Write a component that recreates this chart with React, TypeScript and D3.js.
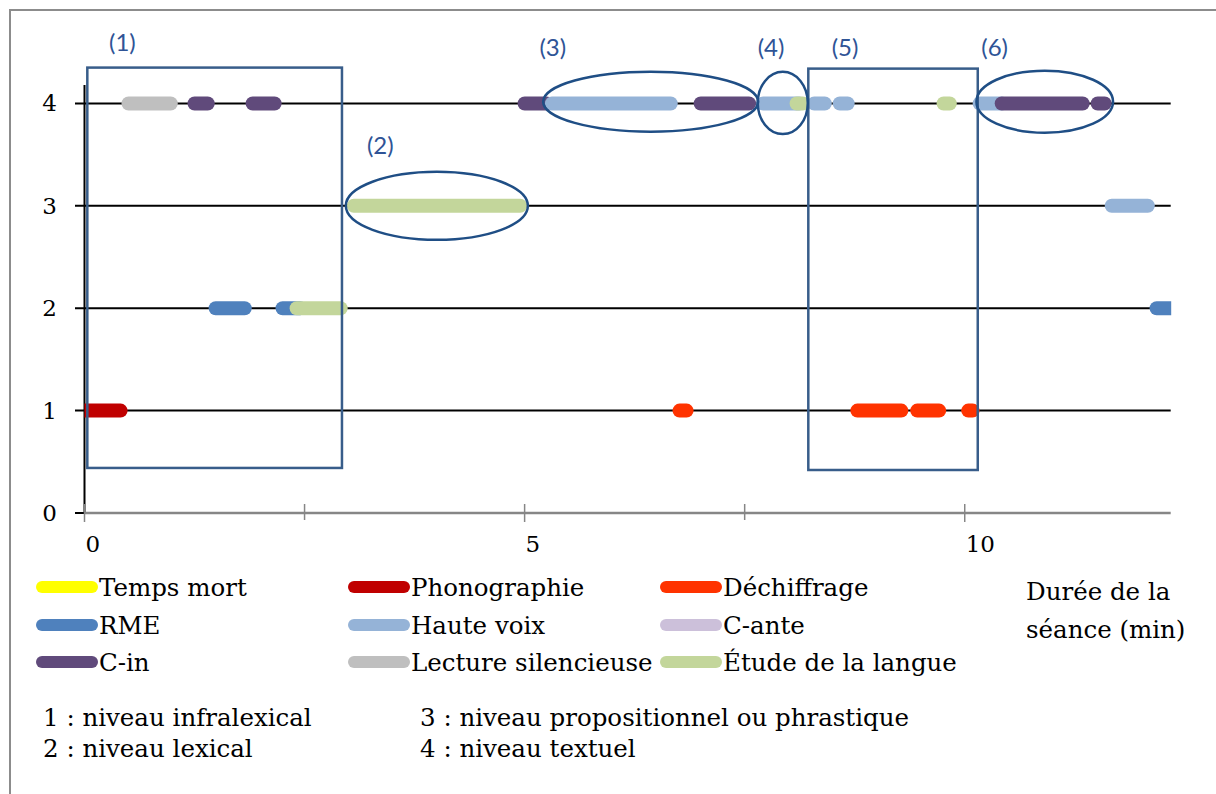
import React from "react";
import * as d3 from "d3";

// ---------- data ----------
const categories = [
  "Temps mort",
  "Phonographie",
  "Déchiffrage",
  "RME",
  "Haute voix",
  "C-ante",
  "C-in",
  "Lecture silencieuse",
  "Étude de la langue",
];
const categoryColors = [
  "#FFFF00",
  "#C00000",
  "#FF3300",
  "#4F81BD",
  "#95B3D7",
  "#CCC0DA",
  "#604A7B",
  "#BFBFBF",
  "#C3D69B",
];

// [level, category, start (min), end (min)]
const segments: [number, string, number, number][] = [
  [1, "Phonographie", 0, 0.41],
  [1, "Déchiffrage", 6.76, 6.84],
  [1, "Déchiffrage", 8.78, 9.28],
  [1, "Déchiffrage", 9.46, 9.71],
  [1, "Déchiffrage", 10.04, 10.09],
  [2, "RME", 1.49, 1.82],
  [2, "RME", 2.25, 2.45],
  [2, "Étude de la langue", 2.41, 2.91],
  [2, "RME", 12.18, 12.4],
  [3, "Étude de la langue", 3.06, 4.95],
  [3, "Haute voix", 11.67, 12.08],
  [4, "Lecture silencieuse", 0.5, 0.98],
  [4, "C-in", 1.25, 1.4],
  [4, "C-in", 1.91, 2.16],
  [4, "C-in", 5.0, 5.25],
  [4, "Haute voix", 5.31, 6.66],
  [4, "C-in", 7.0, 7.55],
  [4, "Haute voix", 7.71, 8.12],
  [4, "Étude de la langue", 8.09, 8.16],
  [4, "Haute voix", 8.29, 8.41],
  [4, "Haute voix", 8.58, 8.67],
  [4, "Étude de la langue", 9.76, 9.83],
  [4, "Haute voix", 10.17, 10.42],
  [4, "C-in", 10.42, 11.34],
  [4, "C-in", 11.51, 11.59],
];

const levels = [0, 1, 2, 3, 4];
const xTicks = [0, 2.5, 5, 7.5, 10];
const xTickLabels = [0, 5, 10];
const xMax = 12.34;
const yMax = 4.18;

// annotation shapes in data units
const annotationRects = [
  { label: "(1)", x0: 0.032, x1: 2.925, y0: 0.44, y1: 4.35 },
  { label: "(5)", x0: 8.223, x1: 10.148, y0: 0.42, y1: 4.34 },
];
const annotationEllipses = [
  { label: "(2)", cx: 4.003, cy: 3.0, rx: 1.034, ry: 0.332 },
  { label: "(3)", cx: 6.432, cy: 4.017, rx: 1.221, ry: 0.293 },
  { label: "(4)", cx: 7.933, cy: 4.005, rx: 0.284, ry: 0.304 },
  { label: "(6)", cx: 10.909, cy: 4.017, rx: 0.776, ry: 0.303 },
];
const annotationLabels = [
  { label: "(1)", x: 0.43, y: 4.6 },
  { label: "(2)", x: 3.36, y: 3.6 },
  { label: "(3)", x: 5.32, y: 4.56 },
  { label: "(4)", x: 7.8, y: 4.56 },
  { label: "(5)", x: 8.64, y: 4.56 },
  { label: "(6)", x: 10.34, y: 4.56 },
];

const levelNotes = [
  "1 : niveau infralexical",
  "2 : niveau lexical",
  "3 : niveau propositionnel ou phrastique",
  "4 : niveau textuel",
];
const axisTitle = ["Durée de la", "séance (min)"];

// ---------- chart ----------
const W = 1216;
const H = 794;
const SERIF = "'DejaVu Serif', serif";
const SANS = "Lato, 'Open Sans', sans-serif";
const ANN = "#385D8A";
const ANN_TEXT = "#2F5496";
const TXT = 24.5;

export default function App() {
  const x = d3.scaleLinear().domain([0, xMax]).range([84.5, 1170.7]);
  const y = d3.scaleLinear().domain([0, yMax]).range([513, 85]);
  const color = d3.scaleOrdinal<string, string>().domain(categories).range(categoryColors);

  const line = d3
    .line<[number, number]>()
    .x((d) => x(d[0]))
    .y((d) => y(d[1]));

  const legendCols = [36, 348, 660];
  const legendRows = [587, 625, 662];

  return (
    <svg
      width={W}
      height={H}
      style={{ position: "absolute", left: 0, top: 0, background: "#fff" }}
    >
      <defs>
        <clipPath id="plot">
          <rect x={x(0)} y={0} width={x(xMax) - x(0) + 0.5} height={H} />
        </clipPath>
      </defs>
      {/* outer frame */}
      <rect x={10} y={10} width={1220} height={800} fill="none" stroke="#8c8c8c" strokeWidth={2} />

      {/* gridlines */}
      {levels.slice(1).map((l) => (
        <line key={l} x1={75} x2={x(xMax)} y1={y(l)} y2={y(l)} stroke="#000" strokeWidth={2} />
      ))}
      {/* y axis */}
      <line x1={x(0)} x2={x(0)} y1={y(yMax)} y2={y(0)} stroke="#000" strokeWidth={2} />
      <line x1={75} x2={x(0)} y1={y(0)} y2={y(0)} stroke="#000" strokeWidth={2} />
      {levels.map((l) => (
        <text
          key={l}
          x={57}
          y={y(l)}
          textAnchor="end"
          dominantBaseline="central"
          fontFamily={SERIF}
          fontSize={23}
          fill="#000"
        >
          {l}
        </text>
      ))}
      {/* x axis */}
      <line x1={x(0)} x2={x(xMax)} y1={y(0)} y2={y(0)} stroke="#868686" strokeWidth={2.5} />
      {xTicks.map((t) => (
        <line
          key={t}
          x1={x(t)}
          x2={x(t)}
          y1={y(0) - 9}
          y2={y(0) + (t % 5 === 0 ? 9 : 7)}
          stroke="#868686"
          strokeWidth={1.5}
        />
      ))}
      {xTickLabels.map((t) => (
        <text
          key={t}
          x={x(t) + 1}
          y={y(0) + 31}
          textAnchor="start"
          dominantBaseline="central"
          fontFamily={SERIF}
          fontSize={23}
          fill="#000"
        >
          {t}
        </text>
      ))}

      {/* segments */}
      <g clipPath="url(#plot)">
        {segments.map(([lvl, cat, s, e], i) => (
          <path
            key={i}
            d={line([
              [s, lvl],
              [e, lvl],
            ])!}
            stroke={color(cat)}
            strokeWidth={14}
            strokeLinecap="round"
            fill="none"
          />
        ))}
      </g>

      {/* annotations */}
      {annotationRects.map((r) => (
        <rect
          key={r.label}
          x={x(r.x0)}
          y={y(r.y1)}
          width={x(r.x1) - x(r.x0)}
          height={y(r.y0) - y(r.y1)}
          fill="none"
          stroke={ANN}
          strokeWidth={2.5}
        />
      ))}
      {annotationEllipses.map((e) => (
        <ellipse
          key={e.label}
          cx={x(e.cx)}
          cy={y(e.cy)}
          rx={x(e.rx) - x(0)}
          ry={y(0) - y(e.ry)}
          fill="none"
          stroke="#1F4E85"
          strokeWidth={2.5}
        />
      ))}
      {annotationLabels.map((a) => (
        <text
          key={a.label}
          x={x(a.x)}
          y={y(a.y)}
          textAnchor="middle"
          dominantBaseline="central"
          fontFamily={SANS}
          fontSize={24}
          fill={ANN_TEXT}
        >
          {a.label}
        </text>
      ))}

      {/* legend */}
      {categories.map((c, i) => {
        const col = i % 3;
        const row = Math.floor(i / 3);
        const lx = legendCols[col];
        const ly = legendRows[row];
        return (
          <g key={c}>
            <line
              x1={lx + 6}
              x2={lx + 56}
              y1={ly}
              y2={ly}
              stroke={color(c)}
              strokeWidth={12}
              strokeLinecap="round"
            />
            <text
              x={lx + 63}
              y={ly}
              dominantBaseline="central"
              fontFamily={SERIF}
              fontSize={TXT}
              fill="#000"
            >
              {c}
            </text>
          </g>
        );
      })}
      {axisTitle.map((t, i) => (
        <text
          key={t}
          x={1026}
          y={591 + i * 38}
          dominantBaseline="central"
          fontFamily={SERIF}
          fontSize={TXT}
          fill="#000"
        >
          {t}
        </text>
      ))}
      {levelNotes.map((t, i) => (
        <text
          key={t}
          x={i < 2 ? 43 : 420}
          y={717 + (i % 2) * 31}
          dominantBaseline="central"
          fontFamily={SERIF}
          fontSize={TXT}
          fill="#000"
        >
          {t}
        </text>
      ))}
    </svg>
  );
}
